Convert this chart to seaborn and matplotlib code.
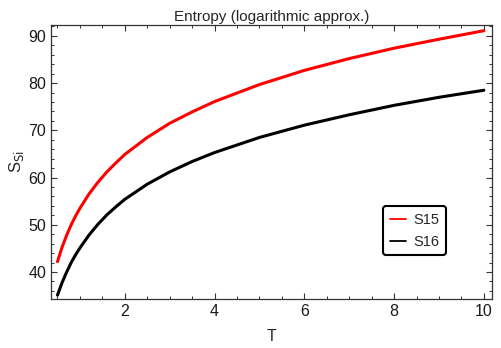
import pandas as pd
import numpy as np
import matplotlib.pyplot as plt
import seaborn as sns
from matplotlib.ticker import MultipleLocator

# values
T = [0.5, 0.6, 0.7, 0.8, 0.9, 1.0, 1.2, 1.4, 1.6, 1.8, 2.0, 2.5, 3.0, 3.5,
     4.0, 5.0, 6.0, 7.0, 8.0, 9.0, 10.0]
S15 = [42.2, 45.2, 47.7, 49.9, 51.8, 53.5, 56.5, 59.0, 61.2, 63.1, 64.9, 68.5,
       71.5, 73.9, 76.1, 79.7, 82.7, 85.2, 87.4, 89.3, 91.1]
S16 = [35.1, 37.7, 39.9, 41.9, 43.6, 45.1, 47.8, 50.1, 52.1, 53.8, 55.4, 58.6,
       61.2, 63.4, 65.3, 68.5, 71.1, 73.3, 75.3, 77.0, 78.5]

df = pd.DataFrame({'T': T * 2,
                   'S': S15 + S16,
                   'series': ['S15'] * len(T) + ['S16'] * len(T)})

sns.set_style("ticks")
plt.rcParams['font.family'] = ['Liberation Sans', 'DejaVu Sans']

fig, ax = plt.subplots(figsize=(5.02, 3.48), dpi=100)
fig.subplots_adjust(left=0.102, right=0.980, top=0.928, bottom=0.141)

sns.lineplot(data=df, x='T', y='S', hue='series',
             palette={'S15': '#ff0000', 'S16': '#000000'},
             linewidth=2.2, ax=ax)

ax.set_xlim(0.36, 10.18)
ax.set_ylim(34.3, 92.3)
ax.xaxis.set_major_locator(MultipleLocator(2))
ax.xaxis.set_minor_locator(MultipleLocator(0.5))
ax.yaxis.set_major_locator(MultipleLocator(10))
ax.yaxis.set_minor_locator(MultipleLocator(2))
ax.tick_params(which='both', direction='in', top=True, right=True,
               labelsize=11.5, colors='#333333', labelcolor='#1a1a1a')
ax.tick_params(which='major', length=4.5, width=0.8)
ax.tick_params(which='minor', length=2.5, width=0.7)
for sp in ax.spines.values():
    sp.set_color('#333333')
    sp.set_linewidth(0.9)

ax.set_title('Entropy (logarithmic approx.)', fontsize=11, pad=3)
ax.set_xlabel('T', fontsize=11.5, labelpad=7)
ax.set_ylabel('S$_{\\mathrm{Si}}$', fontsize=12, labelpad=2)

leg = ax.legend(loc='upper left', bbox_to_anchor=(0.753, 0.339), fontsize=10.5,
                handlelength=1.1, handletextpad=0.5, frameon=True,
                fancybox=True, borderpad=0.45, labelspacing=0.55,
                borderaxespad=0)
leg.get_frame().set_edgecolor('#000000')
leg.get_frame().set_linewidth(1.5)
leg.get_frame().set_alpha(1)
for line in leg.get_lines():
    line.set_linewidth(1.3)

plt.savefig('out.png', dpi=100)
